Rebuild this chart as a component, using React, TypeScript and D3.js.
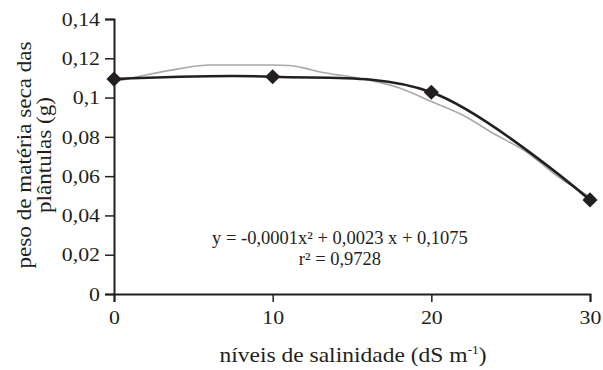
import React, { useEffect, useRef } from 'react';
import * as d3 from 'd3';

// observed means (salinity levels in dS/m)
const salinity = [0, 10, 20, 30];
const dryMass = [0.1094, 0.1106, 0.1027, 0.0479];

// fitted curve
const fitX = [0, 2, 4, 6, 8, 10, 11, 12, 13, 14, 15, 16, 18, 20, 22, 24, 26, 28, 30];
const fitY = [0.108, 0.1115, 0.1145, 0.1166, 0.1166, 0.1166, 0.1163, 0.115, 0.113, 0.1117, 0.1105, 0.109, 0.1049, 0.098, 0.091, 0.0813, 0.0723, 0.0596, 0.0494];

const yTicks = [0, 0.02, 0.04, 0.06, 0.08, 0.1, 0.12, 0.14];
const xTicks = [0, 10, 20, 30];
const yTickLabels = ['0', '0,02', '0,04', '0,06', '0,08', '0,1', '0,12', '0,14'];

const FONT = '"Liberation Serif", "Times New Roman", serif';
const INK = '#231f20';
const STRETCH = 1.12; // the scanned type is a bit wider than Times

export default function App() {
  const svgRef = useRef<SVGSVGElement>(null);

  useEffect(() => {
    const width = 603;
    const height = 370;
    const svg = d3.select(svgRef.current);
    svg.selectAll('*').remove();

    const margin = { top: 19, right: 13, bottom: 76, left: 114 };
    const innerW = width - margin.left - margin.right;
    const innerH = height - margin.top - margin.bottom;

    const g = svg.append('g').attr('transform', `translate(${margin.left},${margin.top})`);

    const x = d3.scaleLinear().domain([0, 30]).range([0, innerW]);
    const y = d3.scaleLinear().domain([0, 0.14]).range([innerH, 0]);

    // y axis
    const yAxis = g.append('g')
      .call(d3.axisLeft(y).tickValues(yTicks).tickSize(9).tickPadding(5)
        .tickFormat((d, i) => yTickLabels[i]));
    yAxis.select('.domain').attr('stroke', INK).attr('stroke-width', 2);
    yAxis.selectAll('line').attr('stroke', INK).attr('stroke-width', 1.5);
    yAxis.selectAll('text')
      .attr('fill', INK)
      .attr('x', -14 / STRETCH)
      .attr('transform', `scale(${STRETCH},1)`)
      .style('font-family', FONT).style('font-size', '19.5px');

    // x axis
    const xAxis = g.append('g')
      .attr('transform', `translate(0,${innerH})`)
      .call(d3.axisBottom(x).tickValues(xTicks).tickSize(8).tickPadding(8).tickFormat(d => String(d)));
    xAxis.select('.domain').attr('stroke', INK).attr('stroke-width', 2);
    xAxis.selectAll('line').attr('stroke', INK).attr('stroke-width', 1.5);
    xAxis.selectAll('text')
      .attr('fill', INK)
      .attr('transform', `scale(${STRETCH},1)`)
      .style('font-family', FONT).style('font-size', '19.5px');

    // grey fitted line
    const fitLine = d3.line<number>()
      .x((d, i) => x(fitX[i]))
      .y(d => y(d))
      .curve(d3.curveMonotoneX);
    g.append('path')
      .datum(fitY)
      .attr('d', fitLine)
      .attr('fill', 'none')
      .attr('stroke', '#a7a9ac')
      .attr('stroke-width', 1.6);

    // black smoothed line through means
    const meanLine = d3.line<number>()
      .x((d, i) => x(salinity[i]))
      .y(d => y(d))
      .curve(d3.curveCatmullRom.alpha(0.5));
    g.append('path')
      .datum(dryMass)
      .attr('d', meanLine)
      .attr('fill', 'none')
      .attr('stroke', INK)
      .attr('stroke-width', 2.6);

    // diamonds
    const sym = d3.symbol().type(d3.symbolSquare).size(115);
    g.selectAll('.pt')
      .data(dryMass)
      .join('path')
      .attr('class', 'pt')
      .attr('d', sym)
      .attr('transform', (d, i) => `translate(${x(salinity[i])},${y(d)}) rotate(45)`)
      .attr('fill', INK);

    // equation
    const eq = svg.append('text')
      .attr('text-anchor', 'middle')
      .attr('fill', INK)
      .style('font-family', FONT)
      .style('font-size', '18.5px');
    eq.append('tspan').attr('x', 340).attr('y', 244).text('y = -0,0001x² + 0,0023 x + 0,1075');
    eq.append('tspan').attr('x', 340).attr('y', 265).text('r² = 0,9728');

    // x label
    const xl = svg.append('text')
      .attr('transform', `translate(353,362) scale(1.12,1)`)
      .attr('text-anchor', 'middle')
      .attr('fill', INK)
      .style('font-family', FONT)
      .style('font-size', '21px');
    xl.append('tspan').text('níveis de salinidade (dS m');
    xl.append('tspan').attr('dy', -8).style('font-size', '12px').text('-1');
    xl.append('tspan').attr('dy', 8).text(')');

    // y label (stretched along the reading direction)
    const yl = svg.append('text')
      .attr('transform', `translate(0,155) rotate(-90) scale(1.1,1)`)
      .attr('text-anchor', 'middle')
      .attr('fill', INK)
      .style('font-family', FONT)
      .style('font-size', '21px');
    yl.append('tspan').attr('x', 0).attr('y', 31).text('peso de matéria seca das');
    yl.append('tspan').attr('x', 0).attr('y', 51).text('plântulas (g)');
  }, []);

  return (
    <svg
      ref={svgRef}
      width={603}
      height={370}
      style={{ position: 'fixed', top: 0, left: 0, background: '#fff', display: 'block' }}
    />
  );
}
